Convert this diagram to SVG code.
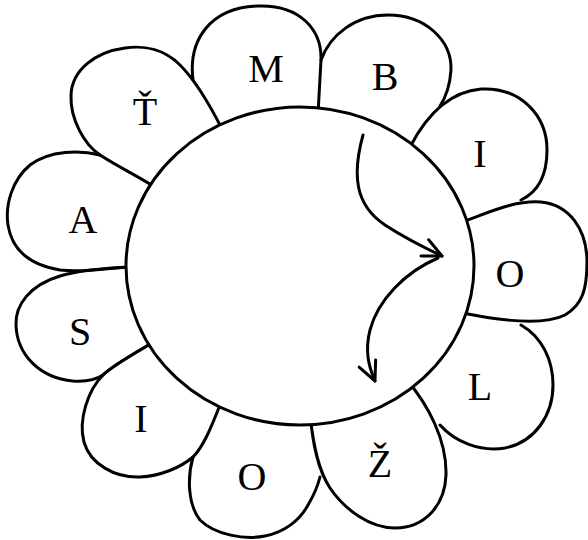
<svg xmlns="http://www.w3.org/2000/svg" width="588" height="540" viewBox="0 0 588 540">
<style>
.o{fill:none;stroke:#000;stroke-width:3;stroke-linecap:round;stroke-linejoin:round}
.c{fill:#fff;stroke:#000;stroke-width:3}
.t{font-family:"Liberation Serif","DejaVu Serif",serif;font-size:40px;fill:#000;text-anchor:middle}
</style>
<defs>
<marker id="ah" viewBox="-22 -12 26 24" refX="0" refY="0" markerWidth="26" markerHeight="24" markerUnits="userSpaceOnUse" orient="auto">
<path d="M-19,-9 L0,0 L-19,9" fill="none" stroke="#000" stroke-width="3" stroke-linecap="round" stroke-linejoin="round"/>
</marker>
</defs>
<rect width="588" height="540" fill="#fff"/>
<g id="petal-M"><path class="o" d="M193,80 C188,40 210,8 257,6 C300,4 322,30 321,60 C320,80 319,97 318,114"/><text class="t" x="266" y="82">M</text></g>
<g id="petal-B"><path class="o" d="M321,60 C330,35 355,15 388,15 C425,15 452,40 451,70 C450,85 446,97 440,106"/><text class="t" x="385" y="90">B</text></g>
<g id="petal-I1"><path class="o" d="M410,147 C423,122 445,92 481,89 C520,87 547,115 547,150 C547,175 538,192 521,200"/><text class="t" x="480" y="167">I</text></g>
<g id="petal-O1"><path class="o" d="M462,222 C490,212 515,200 541,202 C570,205 587,230 587,262 C587,290 582,305 565,315 C545,325 505,322 458,312"/><text class="t" x="510" y="287">O</text></g>
<g id="petal-L"><path class="o" d="M521,325 C542,337 553,360 553,385 C553,415 535,442 505,448 C480,452 455,442 440,425"/><text class="t" x="480" y="400">L</text></g>
<g id="petal-Z"><path class="o" d="M310,414 C313,445 318,470 330,488 C345,510 370,528 395,528 C425,528 445,505 446,475 C447,440 428,405 407,380"/><text class="t" x="380" y="477">Ž</text></g>
<g id="petal-O2"><path class="o" d="M193,457 C187,478 188,505 200,520 C215,535 245,540 265,536 C285,532 300,520 308,505 C314,495 318,485 320,477"/><text class="t" x="252" y="490">O</text></g>
<g id="petal-I2"><path class="o" d="M152,343 C130,356 112,366 103,375 C88,390 78,420 84,442 C90,464 115,478 140,477 C160,476 180,468 193,457 C205,445 214,420 222,400"/><text class="t" x="141" y="432">I</text></g>
<g id="petal-S"><path class="o" d="M131,267 C105,268 80,270 60,276 C30,285 15,305 16,325 C17,355 40,378 73,381 C88,382 97,379 103,375 C112,366 130,356 152,343"/><text class="t" x="80" y="345">S</text></g>
<g id="petal-A"><path class="o" d="M100,155 C80,150 50,150 30,165 C12,180 5,205 8,225 C12,250 30,265 60,270 C85,273 105,268 131,267"/><text class="t" x="83" y="233">A</text></g>
<g id="petal-T"><path class="o" d="M223,131 C210,105 195,80 180,65 C165,50 145,45 125,48 C95,52 72,70 71,95 C70,120 85,145 100,155 C120,168 140,177 156,188"/><text class="t" x="145" y="125">Ť</text></g>
<g id="center"><ellipse class="c" cx="300" cy="266" rx="174" ry="159"/></g>
<g id="connectors">
<path class="o" d="M363,135 C352,175 355,205 385,225 C405,238 425,248 442,256" marker-end="url(#ah)"/>
<path class="o" d="M438,258 C405,272 378,300 370,330 C365,350 368,365 375,381" marker-end="url(#ah)"/>
</g>
</svg>
